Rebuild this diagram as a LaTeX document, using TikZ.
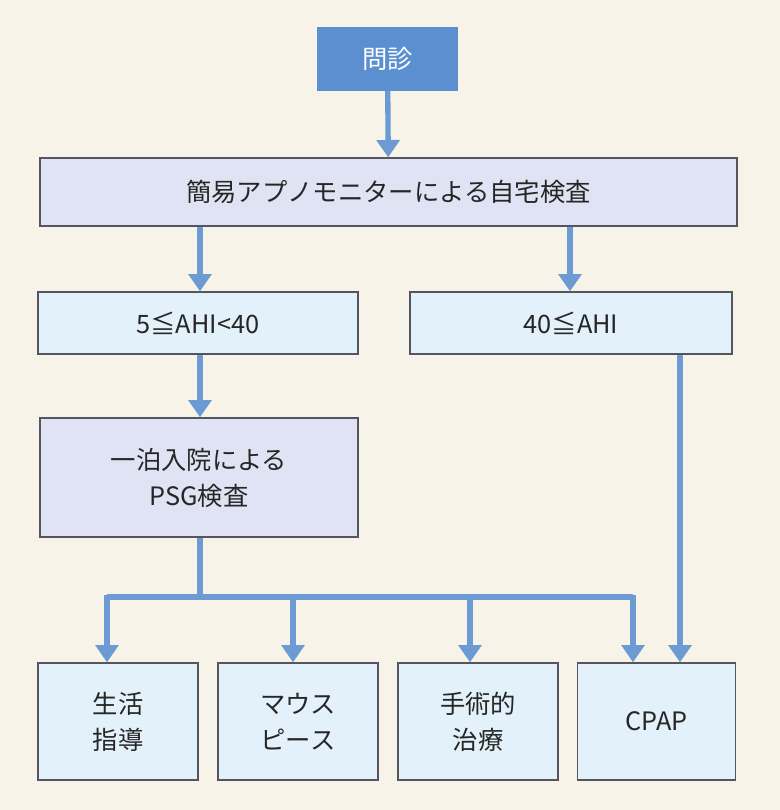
\documentclass[tikz,border=0pt]{standalone}
\usepackage{fontspec}
\setmainfont{Noto Sans CJK JP}
\usetikzlibrary{arrows.meta}
\definecolor{bg}{HTML}{F7F3E8}
\definecolor{hd}{HTML}{5B8FD0}
\definecolor{lav}{HTML}{DFE3F3}
\definecolor{lb}{HTML}{E3F1FA}
\definecolor{ln}{HTML}{6B9BD2}
\definecolor{bd}{HTML}{555560}
\begin{document}
\begin{tikzpicture}[x=0.75pt,y=-0.75pt,
 box/.style={draw=bd,line width=1pt,inner sep=0pt,font=\fontsize{19}{27}\selectfont,align=center,text=black!85},
 con/.style={draw=ln,line width=4pt},
 arr/.style={con,-{Triangle[length=13pt,width=17pt]}}]
\fill[bg] (0,0) rectangle (780,810);
\useasboundingbox (0,0) rectangle (780,810);
\node[box,fill=hd,draw=hd,text=white,minimum width=104.25pt,minimum height=46.5pt] (a) at (387.5,59) {問診};
\node[box,fill=lav,minimum width=522.75pt,minimum height=51pt] (b) at (388.5,192) {簡易アプノモニターによる自宅検査};
\node[box,fill=lb,minimum width=240pt,minimum height=46.5pt] (c) at (198,323) {5≦AHI<40};
\node[box,fill=lb,minimum width=241.5pt,minimum height=46.5pt] (d) at (571,323) {40≦AHI};
\node[box,fill=lav,minimum width=238.5pt,minimum height=89.25pt] (e) at (199,477.5) {一泊入院による\\PSG検査};
\node[box,fill=lb,minimum width=120pt,minimum height=87.75pt] (f1) at (118,721.5) {生活\\指導};
\node[box,fill=lb,minimum width=120pt,minimum height=87.75pt] (f2) at (298,721.5) {マウス\\ピース};
\node[box,fill=lb,minimum width=120pt,minimum height=87.75pt] (f3) at (478,721.5) {手術的\\治療};
\node[box,fill=lb,minimum width=118.5pt,minimum height=87.75pt] (f4) at (656.5,721.5) {CPAP};
\coordinate (j) at (200,597);
\draw[arr] (a) -- (b);
\draw[arr] (b.south -| 200,0) -- (c.north -| 200,0);
\draw[arr] (b.south -| 570,0) -- (d.north -| 570,0);
\draw[arr] (c.south -| 200,0) -- (e.north -| 200,0);
\draw[con] (e.south -| 200,0) -- (j);
\draw[con] (107,597) -- (633,597);
\foreach \x/\n in {107/f1,293/f2,470/f3,633/f4}
  \draw[arr] (\x,595) -- (\n.north -| \x,0);
\draw[arr] (d.south -| 680,0) -- (f4.north -| 680,0);
\end{tikzpicture}
\end{document}
